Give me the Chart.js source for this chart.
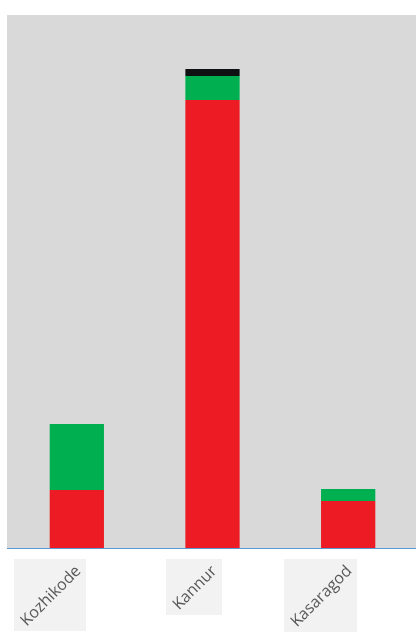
<!DOCTYPE html>
<html>
<head>
<meta charset="utf-8">
<script src="https://cdn.jsdelivr.net/npm/chart.js@4/dist/chart.umd.min.js"></script>
<style>
  html, body { margin: 0; padding: 0; background: #fff; }
  #wrap { width: 416px; height: 636px; }
</style>
</head>
<body>
<div id="wrap"><canvas id="c"></canvas></div>
<script>
// data
const districts = ['Kozhikode', 'Kannur', 'Kasaragod'];
const redVals = [58, 448, 47];
const greenVals = [66, 24, 12];
const blackVals = [0, 7, 0];
const yMax = 533;

// grey plot background (starts a little left of the chart area)
const plotBg = {
    id: 'plotBg',
    beforeDraw(chart) {
        const a = chart.chartArea, ctx = chart.ctx;
        ctx.save();
        ctx.fillStyle = '#d9d9d9';
        ctx.fillRect(7, a.top, a.right - 7, a.bottom - a.top);
        ctx.restore();
    }
};

// rotated labels sitting in light boxes
const boxLabels = {
    id: 'boxLabels',
    afterDraw(chart) {
        const ctx = chart.ctx, xs = chart.scales.x;
        const fs = 16;
        ctx.save();
        ctx.font = fs + 'px "Open Sans"';
        districts.forEach((name, i) => {
            const x = xs.getPixelForValue(i);
            const w = ctx.measureText(name).width;
            const side = Math.round((w + fs) * Math.SQRT1_2 + 6);
            const right = Math.round(x + 9), top = 559;
            ctx.fillStyle = '#f2f2f2';
            ctx.fillRect(right - side, top, side, side);
            ctx.save();
            ctx.translate(right - side / 2 + 1, top + side / 2 + 1);
            ctx.rotate(-Math.PI / 4);
            ctx.fillStyle = '#595959';
            ctx.textAlign = 'center';
            ctx.textBaseline = 'middle';
            ctx.fillText(name, 0, 0);
            ctx.restore();
        });
        ctx.restore();
    }
};

new Chart(document.getElementById('c'), {
    type: 'bar',
    data: {
        labels: districts,
        datasets: [
            { data: redVals, backgroundColor: '#ed1c24' },
            { data: greenVals, backgroundColor: '#00b050' },
            { data: blackVals, backgroundColor: '#0e1012' }
        ]
    },
    options: {
        responsive: true,
        maintainAspectRatio: false,
        animation: false,
        datasets: { bar: { categoryPercentage: 1, barPercentage: 0.4 } },
        layout: { padding: { left: 9, top: 15, right: 0, bottom: 0 } },
        plugins: { legend: { display: false }, tooltip: { enabled: false } },
        scales: {
            x: {
                stacked: true,
                grid: { display: false },
                border: { display: false },
                ticks: { display: false },
                afterFit(s) { s.height = 88; }
            },
            y: {
                stacked: true,
                display: false,
                min: 0,
                max: yMax
            }
        }
    },
    plugins: [plotBg, boxLabels, {
        id: 'baseLine',
        afterDatasetsDraw(chart) {
            const ctx = chart.ctx, a = chart.chartArea;
            ctx.save();
            ctx.strokeStyle = '#5b9bd5';
            ctx.lineWidth = 1;
            ctx.beginPath();
            ctx.moveTo(7, a.bottom + 0.5);
            ctx.lineTo(a.right, a.bottom + 0.5);
            ctx.stroke();
            ctx.restore();
        }
    }]
});
</script>
</body>
</html>
